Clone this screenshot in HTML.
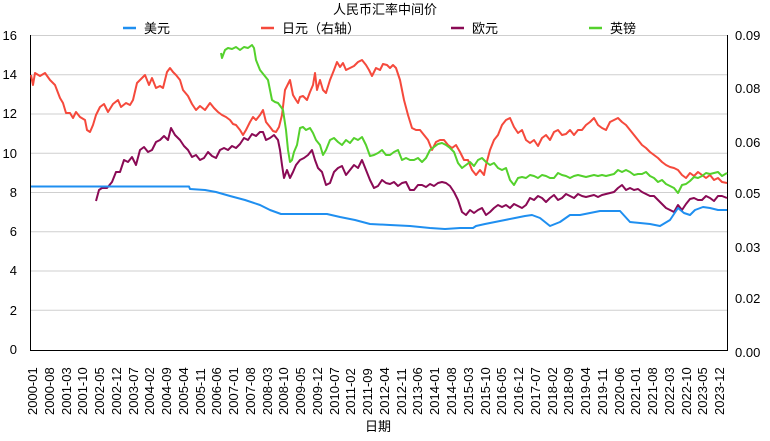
<!DOCTYPE html>
<html><head><meta charset="utf-8"><style>
html,body{margin:0;padding:0;background:#fff;}
svg text{font-family:"Liberation Sans","Noto Sans CJK SC",sans-serif;font-size:13px;fill:#000;}
</style></head><body>
<svg width="770" height="436" viewBox="0 0 770 436" xmlns="http://www.w3.org/2000/svg">
<g stroke="#cfcfcf" stroke-width="1">
<line x1="30" y1="35.5" x2="727" y2="35.5"/><line x1="30" y1="74.8" x2="727" y2="74.8"/><line x1="30" y1="114" x2="727" y2="114"/><line x1="30" y1="153.3" x2="727" y2="153.3"/><line x1="30" y1="192.5" x2="727" y2="192.5"/><line x1="30" y1="231.8" x2="727" y2="231.8"/><line x1="30" y1="271" x2="727" y2="271"/><line x1="30" y1="310.3" x2="727" y2="310.3"/>
</g>
<path d="M30.5 35V350.5H727.5V35" fill="none" stroke="#000" stroke-width="1"/>
<g text-anchor="end"><text x="17" y="40">16</text><text x="17" y="79">14</text><text x="17" y="118">12</text><text x="17" y="158">10</text><text x="17" y="197">8</text><text x="17" y="236">6</text><text x="17" y="275">4</text><text x="17" y="315">2</text><text x="17" y="354">0</text></g>
<g><text x="735" y="40">0.09</text><text x="735" y="93">0.08</text><text x="735" y="147">0.06</text><text x="735" y="198">0.05</text><text x="735" y="252">0.03</text><text x="735" y="303">0.02</text><text x="735" y="357">0.00</text></g>
<text x="385" y="14" text-anchor="middle">人民币汇率中间价</text>
<g stroke-width="2.5"><line x1="123" y1="28" x2="136" y2="28" stroke="#1f8ff0"/><line x1="261" y1="28" x2="274" y2="28" stroke="#f5493c"/><line x1="451" y1="28" x2="464" y2="28" stroke="#8a0a55"/><line x1="589" y1="28" x2="602" y2="28" stroke="#54d12c"/></g>
<text x="144" y="33">美元</text><text x="282" y="33">日元（右轴）</text><text x="472" y="33">欧元</text><text x="610" y="33">英镑</text>
<g fill="none" stroke-width="2" stroke-linejoin="round">
<polyline stroke="#f5493c" points="31,75 33,85 35,73 40,76 45,73 50,80 55,85 60,98 63,103 66,113 70,113 73,118 76,112 80,117 85,120 87,130 90,132 93,125 96,115 100,107 104,104 108,112 113,104 118,100 121,107 126,103 130,105 133,100 137,83 141,79 145,75 149,85 152,78 156,88 160,86 163,88 167,72 170,68 173,72 176,75 180,80 183,90 188,96 192,104 196,110 200,106 205,110 210,103 214,108 218,112 222,115 226,117 230,120 233,124 236,125 240,130 243,135 246,130 250,122 253,117 256,120 260,115 263,110 266,122 270,127 273,131 276,132 279,127 282,115 285,90 288,84 290,80 293,95 296,100 298,103 300,97 303,96 307,100 310,92 313,85 315,73 317,90 320,80 323,90 326,93 330,80 334,70 337,62 340,67 343,63 346,70 350,68 354,66 358,62 362,60 366,65 369,70 372,76 376,68 380,70 383,64 387,65 390,68 393,65 396,68 400,80 404,100 408,115 412,128 416,130 420,130 424,135 428,140 432,150 436,142 440,140 444,140 448,145 452,148 456,145 460,152 464,160 468,160 472,170 476,175 480,170 484,175 486,165 490,150 494,140 498,135 502,125 506,120 510,118 514,127 518,133 522,130 526,140 530,143 534,140 538,146 542,138 546,135 550,140 554,132 558,130 562,135 566,134 570,130 574,135 578,130 582,130 586,125 590,122 594,118 598,125 602,128 606,130 610,122 614,120 618,118 622,122 626,125 630,130 634,135 638,140 642,145 646,148 650,152 654,155 658,158 662,162 666,165 670,167 674,168 678,170 682,175 686,178 690,173 694,176 698,172 702,175 706,178 710,175 714,180 718,178 722,182 727,183"/>
<polyline stroke="#54d12c" points="221,53 222,58 225,50 228,48 232,49 236,47 240,50 244,47 248,48 252,45 254,48 256,60 260,70 264,75 268,80 270,90 272,100 275,102 278,103 281,107 283,110 286,130 288,150 290,162 292,160 294,152 297,145 300,128 303,127 306,130 310,128 313,133 316,140 320,145 323,155 326,150 330,140 334,138 338,142 342,145 346,140 350,143 354,138 358,140 362,137 366,145 370,156 374,155 378,153 382,150 386,155 390,155 394,152 398,150 402,160 406,158 410,160 414,160 418,158 422,162 426,158 430,150 434,147 438,144 442,143 446,145 450,148 454,152 458,163 462,168 466,165 470,162 474,166 478,160 482,158 486,162 490,165 494,163 498,168 502,170 506,168 510,180 514,185 518,178 522,177 526,178 530,175 534,176 538,178 542,175 546,176 550,178 554,178 558,173 562,175 566,176 570,178 574,176 578,175 582,176 586,177 590,176 594,175 598,176 602,175 606,176 610,175 614,174 618,170 622,172 626,170 630,172 634,175 638,174 642,174 646,172 650,176 654,178 658,182 662,180 666,184 670,186 674,188 678,193 682,185 686,184 690,181 694,177 698,178 702,176 706,173 710,174 714,173 718,172 722,176 727,173"/>
<polyline stroke="#8a0a55" points="96,201 99,190 102,188 107,188 112,182 116,172 120,172 124,160 128,162 132,157 136,165 140,150 144,147 148,152 152,150 156,142 160,140 164,136 168,140 171,128 175,135 180,140 184,146 188,150 192,157 196,155 200,160 204,158 208,152 212,156 216,158 220,150 224,148 228,150 232,146 236,148 240,144 244,138 248,140 252,134 256,136 260,132 263,132 266,140 270,138 274,135 278,140 280,150 282,165 284,178 287,170 290,178 293,172 296,165 300,160 304,158 308,155 312,150 315,160 318,168 322,172 326,185 330,183 334,172 338,168 342,166 346,175 350,170 354,165 358,168 362,160 366,170 370,180 374,188 378,186 382,180 386,183 390,184 394,182 398,186 402,183 406,182 410,190 414,190 418,185 422,185 426,187 430,184 434,186 438,183 442,182 446,183 450,186 454,192 458,200 462,212 466,215 470,210 474,213 478,210 482,208 486,215 490,212 494,208 498,205 502,207 506,205 510,208 514,204 518,206 522,208 526,205 530,198 534,200 538,196 542,198 546,202 550,198 554,195 558,200 562,198 566,194 570,196 574,198 578,194 582,196 586,197 590,196 594,195 598,197 602,195 606,194 610,193 614,192 618,188 622,185 626,190 630,188 634,190 638,189 642,192 646,194 650,196 654,196 658,200 662,204 666,208 670,210 674,212 678,205 682,210 686,204 690,199 694,198 698,200 702,200 706,196 710,198 714,201 718,196 722,196 727,198"/>
<polyline stroke="#1f8ff0" points="31,186.5 189,186.5 190,189 205,190 216,192 230,196 245,200 260,205 270,210 281,214 290,214 327,214 340,217 355,220 370,224 390,225 410,226 430,228 445,229 460,228 473,228 476,226 485,224 495,222 505,220 515,218 525,216 532,215 540,218 550,226 560,222 570,215 580,215 590,213 600,211 610,211 620,211 630,222 640,223 650,224 660,226 670,220 678,208 684,213 690,215 695,210 703,207 710,208 718,210 727,210"/>
</g>
<g font-size="12">
<text transform="translate(37,415) rotate(-90)">2000-01</text><text transform="translate(54,415) rotate(-90)">2000-08</text><text transform="translate(71,415) rotate(-90)">2001-03</text><text transform="translate(87,415) rotate(-90)">2001-10</text><text transform="translate(104,415) rotate(-90)">2002-05</text><text transform="translate(121,415) rotate(-90)">2002-12</text><text transform="translate(138,415) rotate(-90)">2003-07</text><text transform="translate(154,415) rotate(-90)">2004-02</text><text transform="translate(171,415) rotate(-90)">2004-09</text><text transform="translate(188,415) rotate(-90)">2005-04</text><text transform="translate(205,415) rotate(-90)">2005-11</text><text transform="translate(221,415) rotate(-90)">2006-06</text><text transform="translate(238,415) rotate(-90)">2007-01</text><text transform="translate(255,415) rotate(-90)">2007-08</text><text transform="translate(272,415) rotate(-90)">2008-03</text><text transform="translate(288,415) rotate(-90)">2008-10</text><text transform="translate(305,415) rotate(-90)">2009-05</text><text transform="translate(322,415) rotate(-90)">2009-12</text><text transform="translate(339,415) rotate(-90)">2010-07</text><text transform="translate(355,415) rotate(-90)">2011-02</text><text transform="translate(372,415) rotate(-90)">2011-09</text><text transform="translate(389,415) rotate(-90)">2012-04</text><text transform="translate(406,415) rotate(-90)">2012-11</text><text transform="translate(422,415) rotate(-90)">2013-06</text><text transform="translate(439,415) rotate(-90)">2014-01</text><text transform="translate(456,415) rotate(-90)">2014-08</text><text transform="translate(473,415) rotate(-90)">2015-03</text><text transform="translate(490,415) rotate(-90)">2015-10</text><text transform="translate(506,415) rotate(-90)">2016-05</text><text transform="translate(523,415) rotate(-90)">2016-12</text><text transform="translate(540,415) rotate(-90)">2017-07</text><text transform="translate(557,415) rotate(-90)">2018-02</text><text transform="translate(573,415) rotate(-90)">2018-09</text><text transform="translate(590,415) rotate(-90)">2019-04</text><text transform="translate(607,415) rotate(-90)">2019-11</text><text transform="translate(624,415) rotate(-90)">2020-06</text><text transform="translate(640,415) rotate(-90)">2021-01</text><text transform="translate(657,415) rotate(-90)">2021-08</text><text transform="translate(674,415) rotate(-90)">2022-03</text><text transform="translate(691,415) rotate(-90)">2022-10</text><text transform="translate(707,415) rotate(-90)">2023-05</text><text transform="translate(724,415) rotate(-90)">2023-12</text>
</g>
<text x="378" y="431" text-anchor="middle">日期</text>
</svg>
</body></html>
